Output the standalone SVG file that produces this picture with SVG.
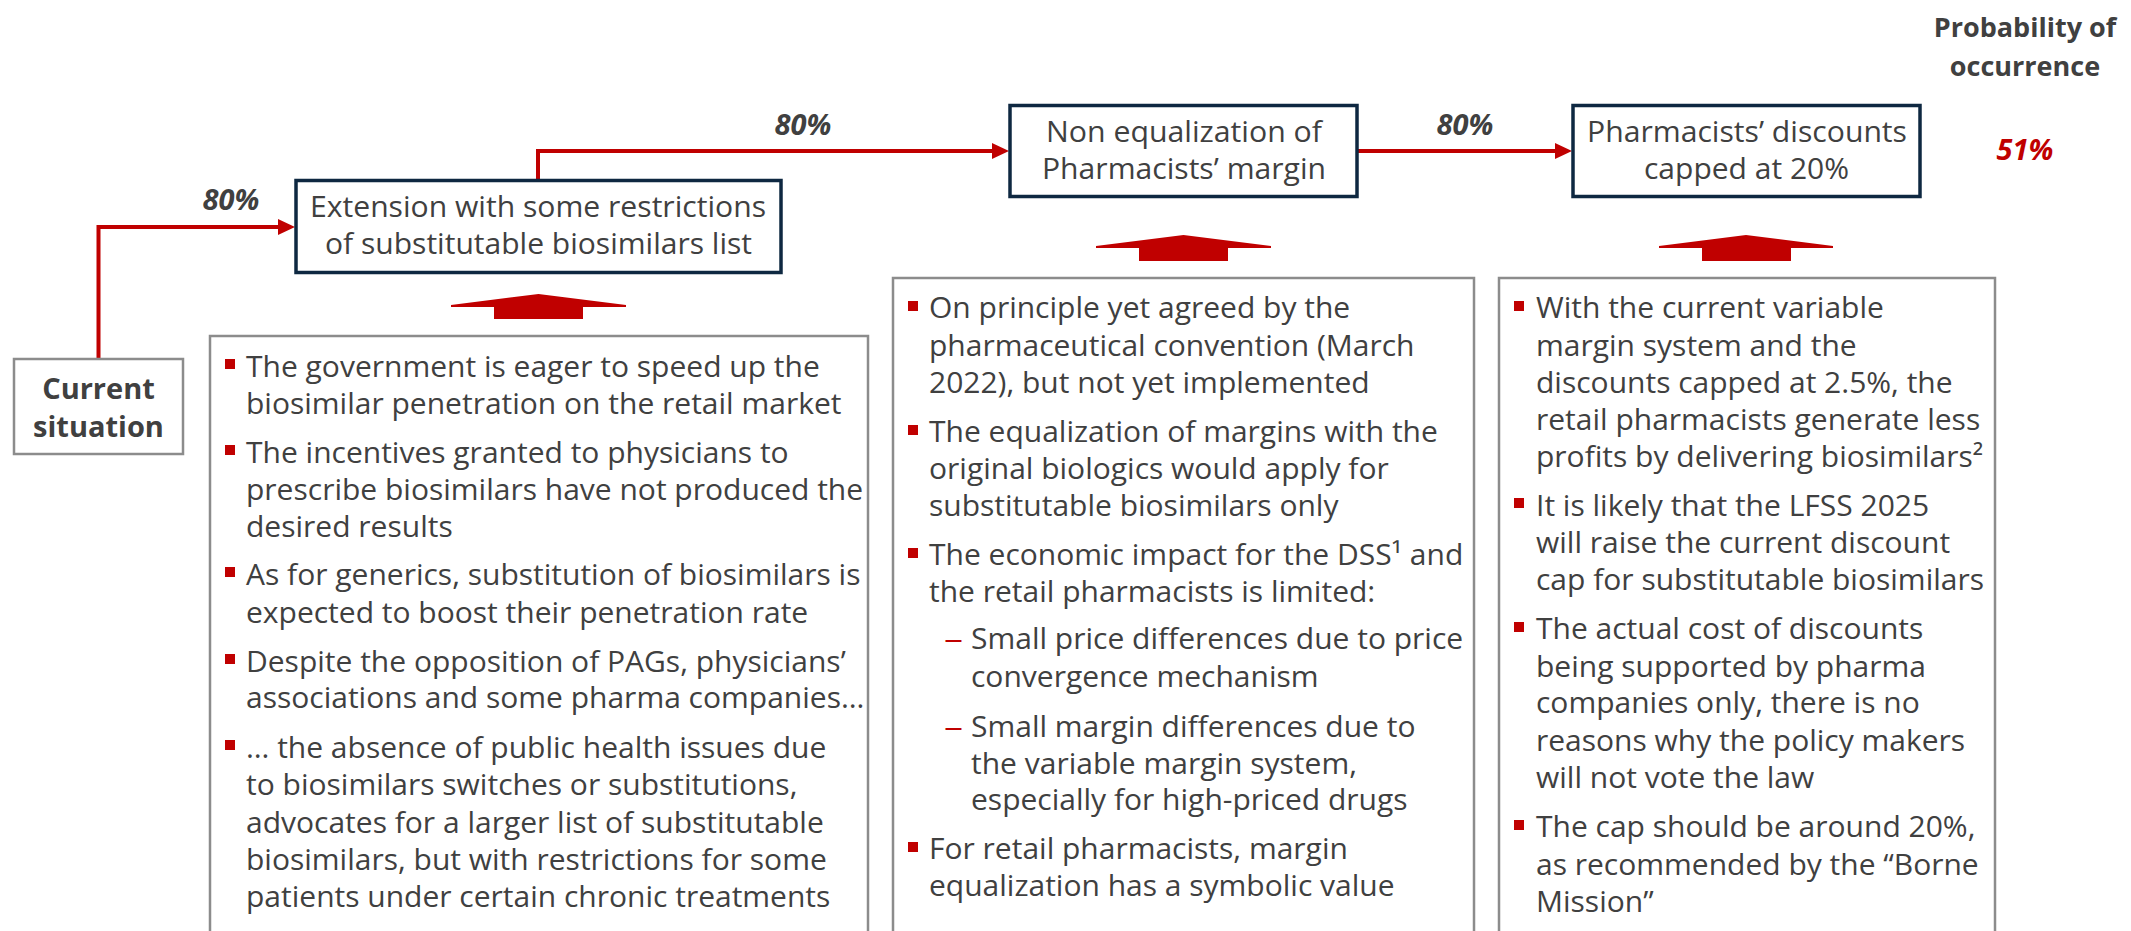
<svg xmlns="http://www.w3.org/2000/svg" width="2131" height="931" viewBox="0 0 2131 931">
<defs>
<style>
.conn{fill:none;stroke:#C00000;stroke-width:4}
.gbox{fill:#fff;stroke:#8c8c8c;stroke-width:2.5}
.nbox{fill:#fff;stroke:#0e2841;stroke-width:3.5}
.title{font-family:'Open Sans','Liberation Sans',sans-serif;font-size:29px;fill:#404040}
.body{font-family:'Open Sans','Liberation Sans',sans-serif;font-size:30px;fill:#404040}
.dash{font-family:'Open Sans','Liberation Sans',sans-serif;font-size:30px;fill:#C00000}
.bul{fill:#C00000}
.pct{font-family:'Open Sans','Liberation Sans',sans-serif;font-size:29px;font-weight:bold;font-style:italic;fill:#404040;text-anchor:middle}
.hdr{font-family:'Open Sans','Liberation Sans',sans-serif;font-size:27px;font-weight:bold;fill:#404040;text-anchor:middle}
.cur{font-family:'Open Sans','Liberation Sans',sans-serif;font-size:29px;font-weight:bold;fill:#404040;text-anchor:middle}
.up{fill:#C00000}
</style>
<marker id="ah" markerUnits="userSpaceOnUse" markerWidth="17" markerHeight="16" refX="7" refY="8" orient="auto">
<path d="M0,0 L17,8 L0,16 z" fill="#C00000"/>
</marker>
</defs>
<rect width="2131" height="931" fill="#fff"/>

<g id="connectors">
<path class="conn" d="M98.5,358 V227 H285" marker-end="url(#ah)"/>
<path class="conn" d="M538,179 V151 H999" marker-end="url(#ah)"/>
<path class="conn" d="M1358,151 H1562" marker-end="url(#ah)"/>
<text class="pct" x="231" y="210">80%</text>
<text class="pct" x="803" y="135">80%</text>
<text class="pct" x="1465" y="135">80%</text>
</g>

<g id="current">
<rect class="gbox" x="14" y="359" width="169" height="95"/>
<text class="cur" x="98.5" y="399">Current</text>
<text class="cur" x="98.5" y="437">situation</text>
</g>

<g id="extension">
<rect class="nbox" x="296" y="180.5" width="485" height="92"/>
<text class="title" x="310" y="217" textLength="456" lengthAdjust="spacingAndGlyphs">Extension with some restrictions</text>
<text class="title" x="325" y="254" textLength="427" lengthAdjust="spacingAndGlyphs">of substitutable biosimilars list</text>
</g>

<g id="nonequal">
<rect class="nbox" x="1010" y="105.5" width="347" height="91"/>
<text class="title" x="1046" y="142" textLength="276" lengthAdjust="spacingAndGlyphs">Non equalization of</text>
<text class="title" x="1042" y="179" textLength="284" lengthAdjust="spacingAndGlyphs">Pharmacists’ margin</text>
</g>

<g id="discounts">
<rect class="nbox" x="1573" y="105.5" width="347" height="91"/>
<text class="title" x="1587" y="142" textLength="320" lengthAdjust="spacingAndGlyphs">Pharmacists’ discounts</text>
<text class="title" x="1644" y="179" textLength="205" lengthAdjust="spacingAndGlyphs">capped at 20%</text>
</g>

<g id="probability">
<text class="hdr" x="2025" y="37">Probability of</text>
<text class="hdr" x="2025" y="76">occurrence</text>
<text class="pct" x="2025" y="160" style="fill:#C00000">51%</text>
</g>

<g id="up-arrows">
<polygon class="up" points="451,307 451,305 538.5,294 626,305 626,307 583,307 583,319 494,319 494,307"/>
<polygon class="up" points="1096,248 1096,246 1183.5,235 1271,246 1271,248 1228,248 1228,261 1139,261 1139,248"/>
<polygon class="up" points="1659,248 1659,246 1746,235 1833,246 1833,248 1791,248 1791,261 1702,261 1702,248"/>
</g>

<g id="left-box">
<rect class="gbox" x="210" y="336" width="658" height="700"/>
<rect class="bul" x="225" y="359" width="10" height="10"/>
<rect class="bul" x="225" y="445" width="10" height="10"/>
<rect class="bul" x="225" y="567" width="10" height="10"/>
<rect class="bul" x="225" y="654" width="10" height="10"/>
<rect class="bul" x="225" y="740" width="10" height="10"/>
<text class="body" x="246" y="377">The government is eager to speed up the</text>
<text class="body" x="246" y="414">biosimilar penetration on the retail market</text>
<text class="body" x="246" y="463">The incentives granted to physicians to</text>
<text class="body" x="246" y="500">prescribe biosimilars have not produced the</text>
<text class="body" x="246" y="537">desired results</text>
<text class="body" x="246" y="585">As for generics, substitution of biosimilars is</text>
<text class="body" x="246" y="623">expected to boost their penetration rate</text>
<text class="body" x="246" y="672">Despite the opposition of PAGs, physicians’</text>
<text class="body" x="246" y="708">associations and some pharma companies…</text>
<text class="body" x="246" y="758">… the absence of public health issues due</text>
<text class="body" x="246" y="795">to biosimilars switches or substitutions,</text>
<text class="body" x="246" y="833">advocates for a larger list of substitutable</text>
<text class="body" x="246" y="870">biosimilars, but with restrictions for some</text>
<text class="body" x="246" y="907">patients under certain chronic treatments</text>
</g>

<g id="middle-box">
<rect class="gbox" x="893" y="278" width="581" height="700"/>
<rect class="bul" x="908" y="301" width="10" height="10"/>
<rect class="bul" x="908" y="425" width="10" height="10"/>
<rect class="bul" x="908" y="548" width="10" height="10"/>
<rect class="bul" x="908" y="842" width="10" height="10"/>
<text class="body" x="929" y="318">On principle yet agreed by the</text>
<text class="body" x="929" y="356">pharmaceutical convention (March</text>
<text class="body" x="929" y="393">2022), but not yet implemented</text>
<text class="body" x="929" y="442">The equalization of margins with the</text>
<text class="body" x="929" y="479">original biologics would apply for</text>
<text class="body" x="929" y="516">substitutable biosimilars only</text>
<text class="body" x="929" y="565">The economic impact for the DSS¹ and</text>
<text class="body" x="929" y="602">the retail pharmacists is limited:</text>
<text class="dash" x="944" y="649" textLength="19" lengthAdjust="spacingAndGlyphs">–</text>
<text class="body" x="971" y="649">Small price differences due to price</text>
<text class="body" x="971" y="687">convergence mechanism</text>
<text class="dash" x="944" y="737" textLength="19" lengthAdjust="spacingAndGlyphs">–</text>
<text class="body" x="971" y="737">Small margin differences due to</text>
<text class="body" x="971" y="774">the variable margin system,</text>
<text class="body" x="971" y="810">especially for high-priced drugs</text>
<text class="body" x="929" y="859">For retail pharmacists, margin</text>
<text class="body" x="929" y="896">equalization has a symbolic value</text>
</g>

<g id="right-box">
<rect class="gbox" x="1499" y="278" width="496" height="700"/>
<rect class="bul" x="1514" y="301" width="10" height="10"/>
<rect class="bul" x="1514" y="498" width="10" height="10"/>
<rect class="bul" x="1514" y="622" width="10" height="10"/>
<rect class="bul" x="1514" y="820" width="10" height="10"/>
<text class="body" x="1536" y="318">With the current variable</text>
<text class="body" x="1536" y="356">margin system and the</text>
<text class="body" x="1536" y="393">discounts capped at 2.5%, the</text>
<text class="body" x="1536" y="430">retail pharmacists generate less</text>
<text class="body" x="1536" y="467">profits by delivering biosimilars²</text>
<text class="body" x="1536" y="516">It is likely that the LFSS 2025</text>
<text class="body" x="1536" y="553">will raise the current discount</text>
<text class="body" x="1536" y="590">cap for substitutable biosimilars</text>
<text class="body" x="1536" y="639">The actual cost of discounts</text>
<text class="body" x="1536" y="677">being supported by pharma</text>
<text class="body" x="1536" y="713">companies only, there is no</text>
<text class="body" x="1536" y="751">reasons why the policy makers</text>
<text class="body" x="1536" y="788">will not vote the law</text>
<text class="body" x="1536" y="837">The cap should be around 20%,</text>
<text class="body" x="1536" y="875">as recommended by the “Borne</text>
<text class="body" x="1536" y="912">Mission”</text>
</g>
</svg>
